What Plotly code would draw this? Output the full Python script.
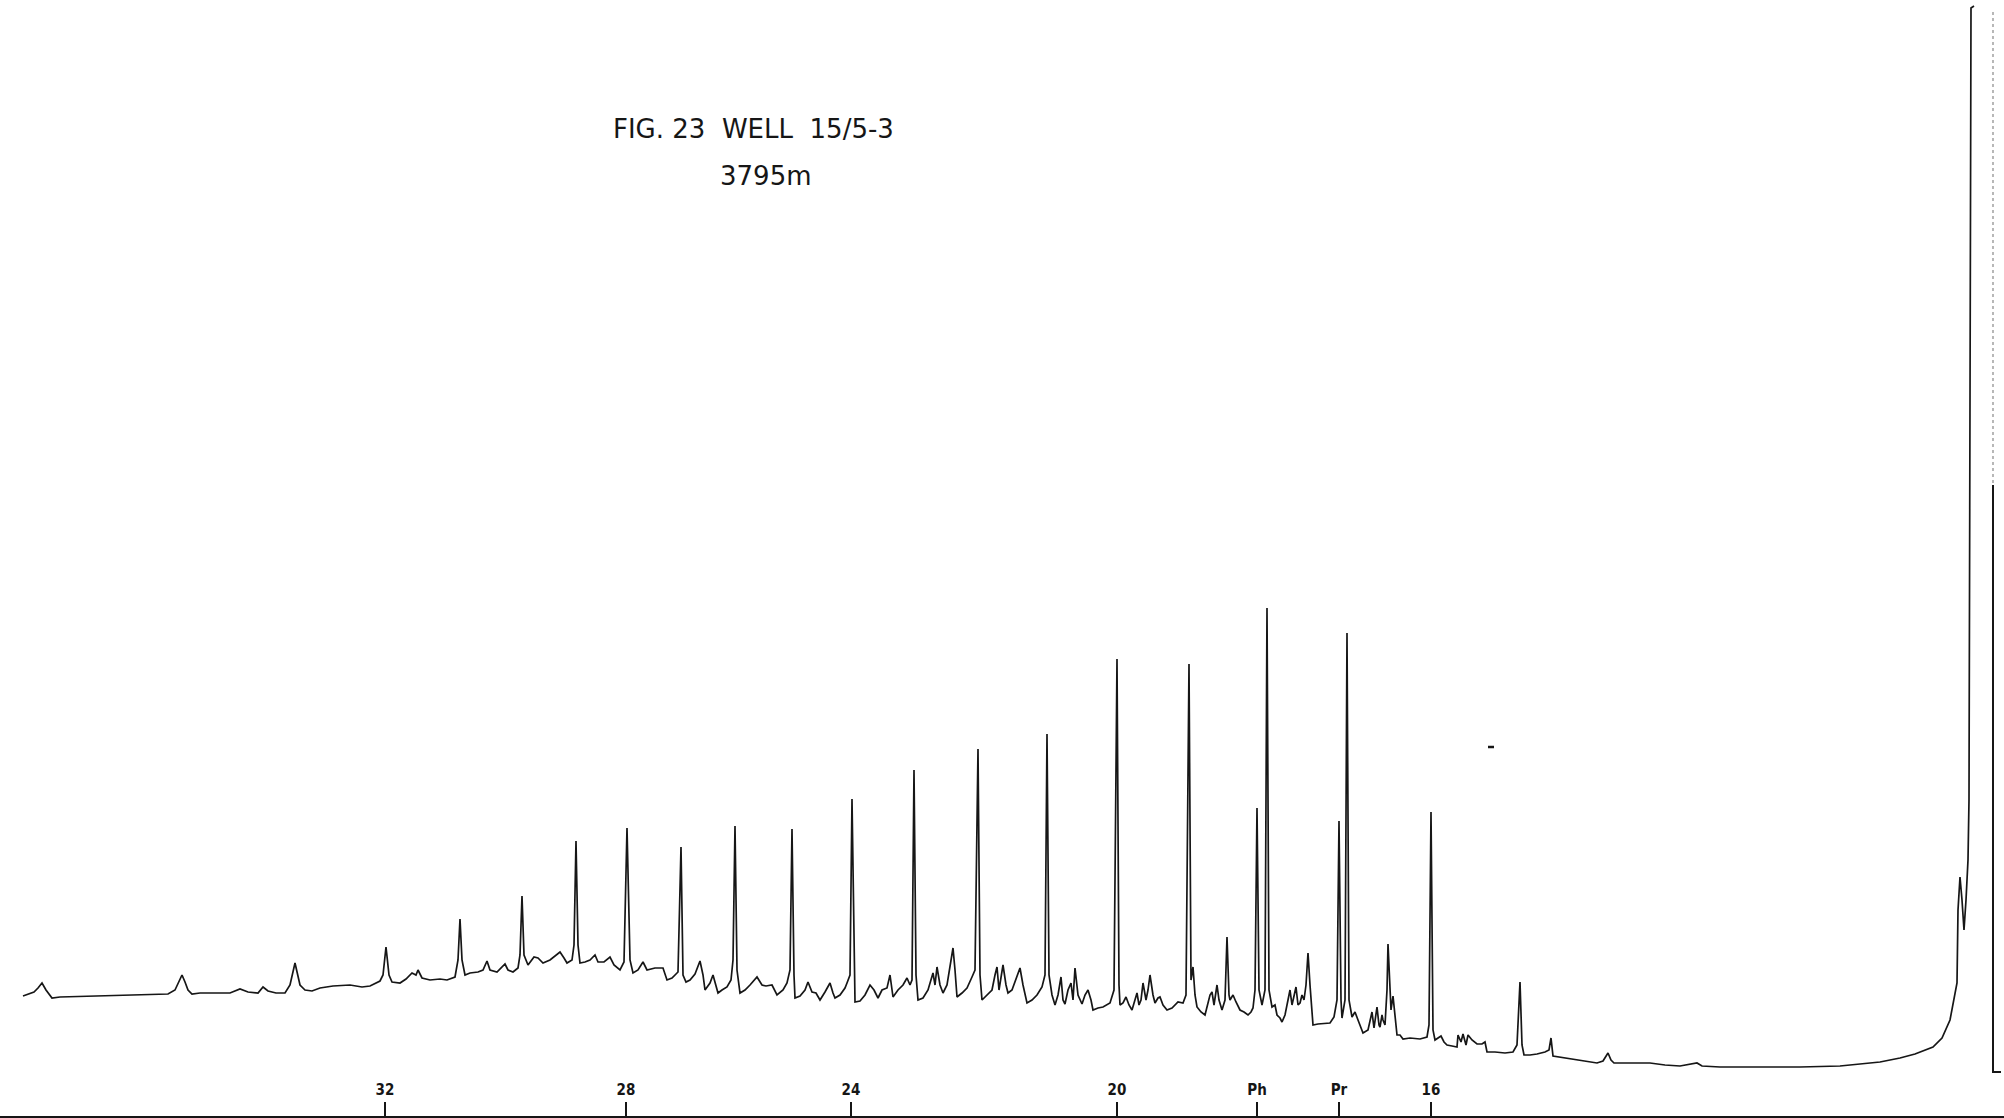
import plotly.graph_objects as go

# Chart values (retention position along the chart, detector response)
seg_c34_c32 = [
    (23, 120), (30, 123), (34, 124), (38, 128), (42, 133), (46, 126), (48, 123), (52, 118),
    (60, 119), (100, 120), (140, 121), (168, 122), (175, 126), (179, 134), (182, 141),
    (185, 134), (188, 126), (192, 122), (200, 123), (230, 123), (240, 127), (248, 124),
    (258, 123), (263, 129), (268, 125), (276, 123), (285, 123), (290, 131), (295, 153),
    (300, 131), (305, 126), (312, 125), (320, 128), (333, 130), (350, 131), (362, 129),
    (370, 130), (380, 135), (383, 141), (386, 169), (389, 141), (392, 134),
]

seg_c31_c26 = [
    (400, 133), (406, 137), (412, 143), (416, 141), (418, 146), (422, 138), (430, 136),
    (440, 137), (447, 136), (455, 139), (458, 156), (460, 197), (462, 156), (465, 141),
    (470, 143), (478, 144), (483, 146), (487, 155), (490, 146), (497, 144), (505, 152),
    (508, 146), (513, 144), (518, 148), (520, 161), (522, 220), (524, 161), (528, 151),
    (534, 159), (538, 158), (543, 153), (550, 156), (556, 161), (560, 164), (564, 158),
    (567, 153), (572, 156), (574, 171), (576, 275), (578, 171), (580, 153), (585, 154),
    (590, 156), (595, 161), (598, 154), (604, 154), (610, 159), (614, 151), (620, 146),
    (624, 154), (627, 288), (630, 156), (633, 143), (638, 146), (643, 154), (647, 146),
    (655, 148), (663, 148), (667, 136), (672, 138), (678, 144), (681, 269), (683, 141),
    (686, 134), (690, 136), (695, 142), (700, 155), (703, 141), (705, 126), (710, 133),
    (713, 141), (716, 131), (718, 123), (722, 126), (727, 129), (731, 136), (733, 156),
    (735, 290), (737, 146), (740, 123), (745, 126), (750, 131), (757, 139), (762, 131),
]

seg_c25_c20 = [
    (766, 130), (772, 131), (777, 121), (783, 126), (787, 133), (790, 146), (792, 287),
    (794, 141), (795, 118), (800, 120), (805, 126), (808, 134), (812, 124), (816, 123),
    (820, 116), (825, 124), (830, 133), (833, 123), (835, 118), (840, 121), (845, 128),
    (847, 133), (850, 141), (852, 317), (854, 141), (855, 114), (860, 115), (865, 121),
    (870, 131), (874, 126), (878, 118), (882, 126), (887, 128), (890, 141), (893, 119),
    (898, 126), (903, 131), (907, 138), (910, 131), (912, 136), (914, 346), (916, 141),
    (918, 116), (923, 118), (928, 126), (931, 138), (933, 143), (935, 131), (937, 149),
    (940, 131), (943, 123), (947, 131), (950, 151), (953, 168), (955, 146), (957, 119),
    (962, 123), (967, 128), (972, 139), (975, 146), (978, 367), (980, 141), (982, 116),
    (987, 121), (992, 126), (995, 141), (997, 149), (999, 126), (1001, 141), (1003, 151),
    (1006, 131), (1008, 123), (1012, 126), (1016, 136), (1020, 148), (1023, 131),
    (1027, 113), (1032, 116), (1037, 121), (1042, 129), (1045, 141), (1047, 382),
    (1049, 141), (1052, 121), (1055, 111), (1058, 121), (1061, 139), (1063, 116),
    (1065, 112), (1068, 126), (1071, 133), (1073, 116), (1075, 148), (1078, 121),
    (1080, 116), (1082, 112), (1085, 121), (1088, 126), (1091, 116), (1093, 106),
    (1098, 108), (1103, 109), (1110, 113), (1114, 126), (1117, 457),
]

seg_c19_c17 = [
    (1119, 131), (1120, 111), (1123, 113), (1126, 119), (1129, 111), (1132, 106),
    (1135, 116), (1137, 123), (1139, 111), (1141, 116), (1143, 133), (1146, 116),
    (1148, 126), (1150, 141), (1153, 121), (1155, 113), (1158, 118), (1160, 119),
    (1163, 111), (1167, 106), (1172, 108), (1178, 114), (1183, 113), (1186, 121),
    (1189, 452), (1191, 136), (1193, 149), (1195, 121), (1197, 109), (1201, 104),
    (1205, 101), (1208, 113), (1210, 121), (1212, 124), (1214, 111), (1217, 131),
    (1219, 116), (1222, 106), (1225, 116), (1227, 179), (1229, 121), (1230, 116),
    (1233, 121), (1236, 114), (1240, 106), (1244, 104), (1248, 101), (1251, 104),
    (1253, 108), (1255, 126), (1257, 308), (1259, 126), (1262, 111), (1265, 126),
    (1267, 508), (1269, 126), (1272, 109), (1275, 111), (1277, 101), (1280, 98),
    (1282, 94), (1285, 101), (1288, 116), (1290, 126), (1292, 111), (1293, 116),
    (1296, 129), (1298, 111), (1300, 113), (1302, 121), (1304, 116), (1306, 131),
    (1308, 163), (1310, 131), (1313, 91), (1318, 92), (1325, 93), (1330, 93),
    (1334, 99), (1337, 116), (1339, 295), (1341, 116), (1342, 98), (1345, 116),
    (1347, 483), (1349, 116), (1352, 99), (1355, 104), (1358, 96), (1363, 83),
    (1368, 86), (1372, 104), (1374, 88), (1375, 96), (1377, 109), (1379, 91),
    (1380, 89), (1382, 101), (1383, 96), (1385, 91), (1387, 126), (1388, 172),
    (1390, 116), (1391, 106), (1393, 120), (1395, 101), (1397, 81), (1400, 81),
    (1403, 77), (1410, 78), (1420, 77),
]

seg_c16_solvent = [
    (1427, 79), (1429, 91), (1431, 304), (1433, 86), (1435, 76), (1438, 78), (1441, 80),
    (1444, 74), (1447, 71), (1452, 70), (1457, 69), (1458, 81), (1461, 74), (1463, 82),
    (1466, 71), (1468, 81), (1472, 76), (1477, 72), (1482, 72), (1485, 74), (1487, 64),
    (1495, 64), (1505, 63), (1513, 64), (1517, 71), (1520, 134), (1522, 71), (1524, 61),
    (1530, 61), (1537, 62), (1545, 64), (1549, 66), (1551, 78), (1553, 60), (1560, 59),
    (1570, 57), (1580, 56), (1590, 54), (1597, 53), (1603, 55), (1606, 60), (1608, 63),
    (1611, 56), (1614, 53), (1630, 53), (1650, 53), (1665, 51), (1680, 50), (1697, 53),
    (1702, 50), (1720, 49), (1760, 49), (1800, 49), (1840, 50), (1860, 52), (1880, 54),
    (1900, 58), (1915, 62), (1933, 69), (1942, 78), (1950, 96), (1954, 116), (1957, 133),
    (1958, 206), (1960, 239), (1962, 216), (1964, 186), (1966, 216), (1967, 233),
    (1968, 256), (1969, 316), (1970, 716), (1971, 1108), (1974, 1110),
]

# return stroke of the off-scale solvent peak
solvent_return_faint = [(1993, 1104), (1993, 631)]
solvent_return = [(1993, 631), (1993, 44), (2001, 44)]
pen_mark = [(1488, 369), (1494, 369)]

# axis tick positions and labels (carbon numbers, phytane, pristane)
tick_positions = [385, 626, 851, 1117, 1257, 1339, 1431]
tick_labels = ["32", "28", "24", "20", "Ph", "Pr", "16"]

title_line1 = "FIG. 23  WELL  15/5-3"
title_line2 = "3795m"

trace_points = seg_c34_c32 + seg_c31_c26 + seg_c25_c20 + seg_c19_c17 + seg_c16_solvent
tx, ty = zip(*trace_points)

INK = "#161616"
fig = go.Figure()
fig.add_trace(go.Scatter(x=tx, y=ty, mode="lines",
                         line=dict(color=INK, width=1.7), hoverinfo="skip"))
fx, fy = zip(*solvent_return_faint)
fig.add_trace(go.Scatter(x=fx, y=fy, mode="lines",
                         line=dict(color="#9a9a9a", width=1.4, dash="dot"), hoverinfo="skip"))
rx, ry = zip(*solvent_return)
fig.add_trace(go.Scatter(x=rx, y=ry, mode="lines",
                         line=dict(color=INK, width=2), hoverinfo="skip"))
px_, py_ = zip(*pen_mark)
fig.add_trace(go.Scatter(x=px_, y=py_, mode="lines",
                         line=dict(color=INK, width=2.5), hoverinfo="skip"))

title_font = dict(family="DejaVu Sans, sans-serif", size=26, color=INK)
fig.add_annotation(x=753, y=987, xref="x", yref="y", text=title_line1, showarrow=False,
                   font=title_font, xanchor="center", yanchor="middle")
fig.add_annotation(x=766, y=940, xref="x", yref="y", text=title_line2, showarrow=False,
                   font=title_font, xanchor="center", yanchor="middle")

fig.update_layout(
    width=2004, height=1118,
    margin=dict(l=0, r=0, t=0, b=2),
    paper_bgcolor="white", plot_bgcolor="white",
    showlegend=False,
    xaxis=dict(range=[0, 2004], showgrid=False, zeroline=False,
               showline=True, linecolor=INK, linewidth=2,
               ticks="inside", ticklen=14, tickwidth=2, tickcolor=INK,
               tickvals=tick_positions, ticktext=tick_labels,
               ticklabelposition="inside", ticklabelstandoff=4,
               tickfont=dict(family="DejaVu Sans Condensed, DejaVu Sans, sans-serif",
                             size=15, color=INK, weight="bold")),
    yaxis=dict(range=[0, 1116], visible=False, showgrid=False, zeroline=False),
)

fig.write_html(
    "out.html",
    config={"displayModeBar": False},
    post_script="document.body.style.margin='0px';document.body.style.padding='0px';"
                "document.body.style.overflow='hidden';",
)
